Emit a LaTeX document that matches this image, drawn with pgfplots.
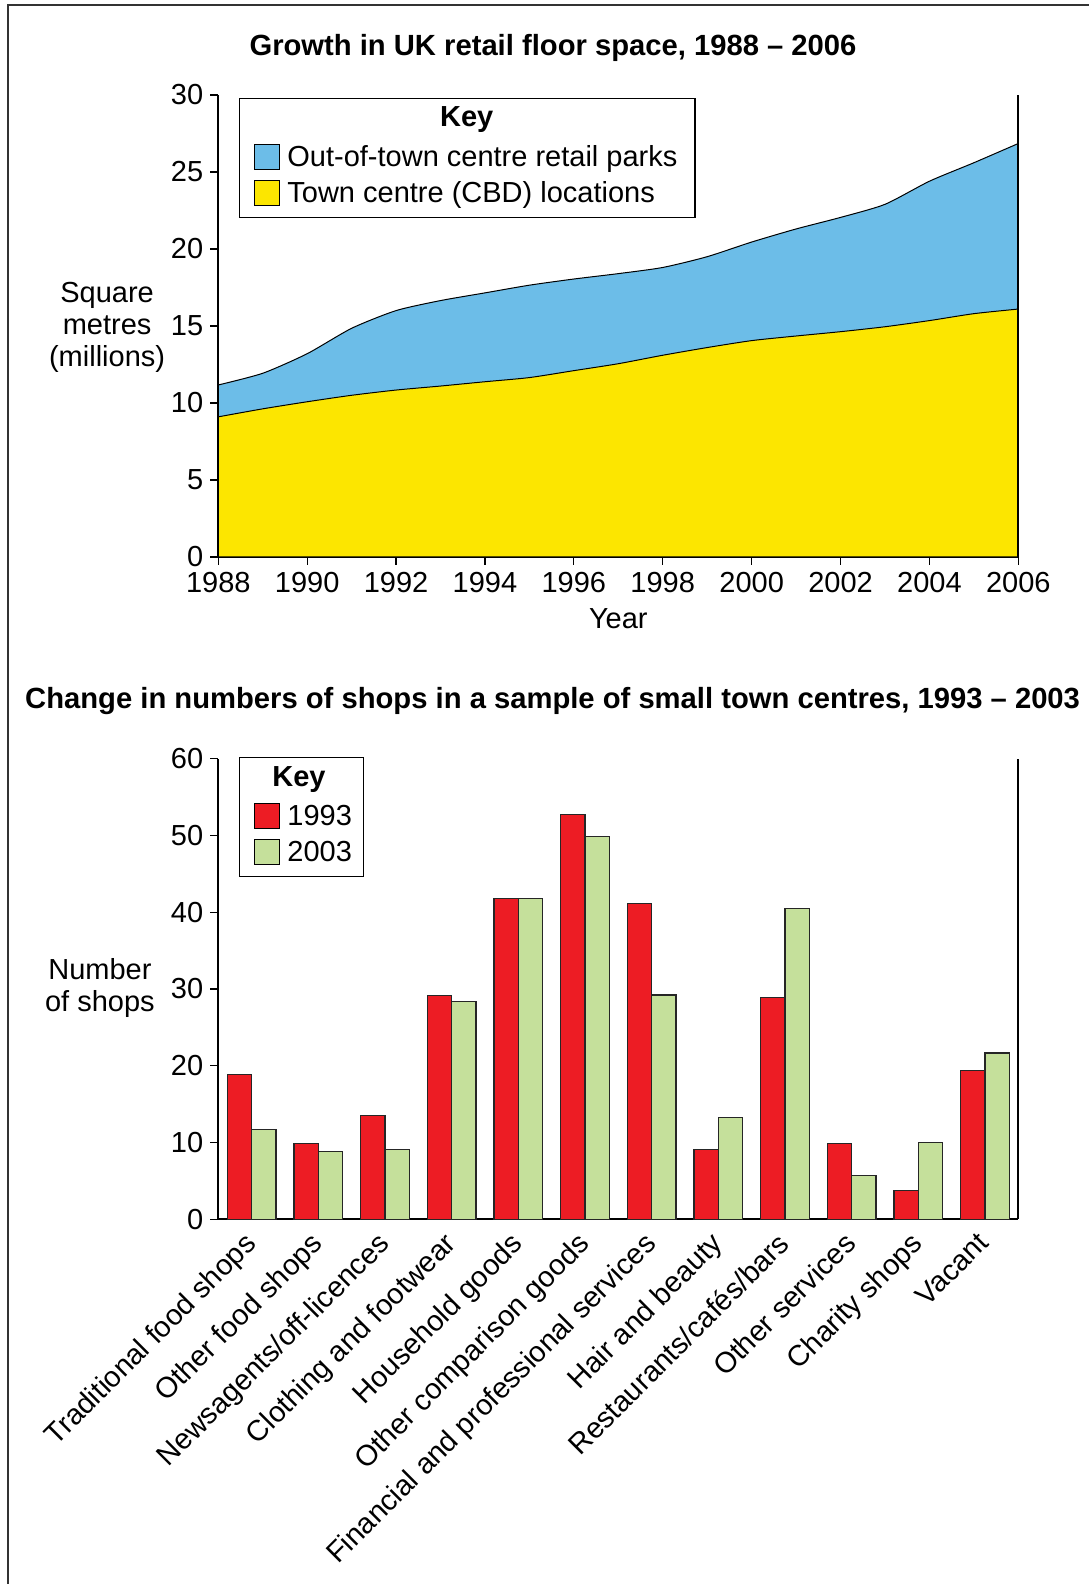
\documentclass[border=0pt]{standalone}
\usepackage{fontspec}
\setmainfont{Liberation Sans}
\usepackage{pgfplots}
\pgfplotsset{compat=1.18}
\definecolor{parkblue}{RGB}{108,189,232}
\definecolor{cbdyellow}{RGB}{252,230,0}
\definecolor{barred}{RGB}{237,28,36}
\definecolor{bargreen}{RGB}{197,224,155}
\begin{document}
\begin{tikzpicture}[font=\fontsize{14.5}{16}\selectfont]
\useasboundingbox (0,0) rectangle (544.5pt,792pt);
\draw[line width=0.7pt, black!80] (4pt,0pt) -- (4pt,789.5pt) -- (544.5pt,789.5pt);
\pgfplotsset{
  every axis/.append style={font=\fontsize{14.5}{16}\selectfont},
  swatch/.style={legend image code/.code={\draw[##1,draw=black,line width=0.5pt] (0pt,-6.25pt) rectangle (12.5pt,6.25pt);}},
  myaxis/.style={
    scale only axis, anchor=south west, width=400pt,
    axis x line*=bottom, axis y line*=left,
    axis line style={line width=1pt,-},
    tick align=outside, major tick length=4pt,
    tick style={line width=0.6pt, black},
    /pgf/number format/assume math mode=true,
    clip=false,
    legend cell align=left,
    legend style={draw=none, fill=none, anchor=west, inner sep=0pt, row sep=5pt,
      nodes={inner sep=0pt},
      /tikz/every odd column/.append style={column sep=3.5pt}},
    title style={anchor=base, yshift=0pt, font=\fontsize{14.6}{16}\selectfont\bfseries},
  }
}
% ---------------- Top chart ----------------
\begin{axis}[myaxis,
  at={(109.15pt,513.5pt)}, height=231pt,
  xmin=1988, xmax=2006, ymin=0, ymax=30,
  xtick={1988,1990,...,2006}, ytick={0,5,...,30},
  x tick label style={/pgf/number format/1000 sep={}},
  title={Growth in UK retail floor space, 1988 -- 2006},
  title style={at={(axis description cs:0.4184,1.0600)}},
  xlabel={Year},
  xlabel style={at={(axis description cs:0.5,-0.1545)}, anchor=base},
  ylabel={Square\\metres\\(millions)},
  ylabel style={at={(axis description cs:-0.139,0.497)}, anchor=center, align=center, rotate=-90},
  legend style={at={(axis description cs:0.0446,0.8258)}},
]
\addplot[swatch, fill=parkblue, draw=black, line width=0.5pt, smooth, tension=0.4] coordinates {
(1988,11.17) (1989,11.93) (1990,13.2) (1991,14.85) (1992,16.0) (1993,16.65)
(1994,17.15) (1995,17.65) (1996,18.05) (1997,18.4) (1998,18.8) (1999,19.5)
(2000,20.45) (2001,21.3) (2002,22.05) (2003,22.9) (2004,24.4) (2005,25.6) (2006,26.85)
} \closedcycle;
\addlegendentry{Out-of-town centre retail parks}
\addplot[swatch, fill=cbdyellow, draw=black, line width=0.5pt, smooth, tension=0.4] coordinates {
(1988,9.1) (1989,9.62) (1990,10.08) (1991,10.5) (1992,10.84) (1993,11.1)
(1994,11.38) (1995,11.65) (1996,12.1) (1997,12.55) (1998,13.1) (1999,13.6)
(2000,14.05) (2001,14.35) (2002,14.63) (2003,14.95) (2004,15.35) (2005,15.8) (2006,16.1)
} \closedcycle;
\addlegendentry{Town centre (CBD) locations}
\draw[line width=1pt] (rel axis cs:1,0) -- (rel axis cs:1,1);
\draw[line width=0.6pt] (axis description cs:0.02625,0.9929) rectangle (axis description cs:0.5959,0.7344);
\node[anchor=base, font=\fontsize{14.5}{16}\selectfont\bfseries] at (axis description cs:0.3105,0.9314) {Key};
\end{axis}
% ---------------- Bottom chart ----------------
\begin{axis}[myaxis,
  at={(109.15pt,182.35pt)}, height=230.4pt,
  ybar=0pt, bar width=12.15pt,
  xmin=-0.5, xmax=11.5, ymin=0, ymax=60,
  ytick={0,10,...,60},
  xtick={0,...,11},
  xtick style={draw=none},
  xticklabels={Traditional food shops, Other food shops, Newsagents/off-licences,
    Clothing and footwear, Household goods, Other comparison goods,
    Financial and professional services, Hair and beauty, Restaurants/cafés/bars,
    Other services, Charity shops, Vacant},
  x tick label style={xshift=-4.5pt, rotate=45, anchor=north east, inner sep=1pt},
  title={Change in numbers of shops in a sample of small town centres, 1993 -- 2003},
  title style={at={(axis description cs:0.4179,1.0820)}},
  ylabel={Number\\of shops},
  ylabel style={at={(axis description cs:-0.148,0.503)}, anchor=center, align=center, rotate=-90},
  legend style={at={(axis description cs:0.0446,0.8353)}},
]
\addplot[swatch, fill=barred, draw=black!85, line width=0.6pt] coordinates {
(0,18.9) (1,9.83) (2,13.5) (3,29.1) (4,41.8) (5,52.7) (6,41.1) (7,9.09) (8,28.9) (9,9.83) (10,3.74) (11,19.4)};
\addlegendentry{1993}
\addplot[swatch, fill=bargreen, draw=black!85, line width=0.6pt] coordinates {
(0,11.7) (1,8.78) (2,9.09) (3,28.4) (4,41.8) (5,49.8) (6,29.2) (7,13.3) (8,40.5) (9,5.74) (10,9.96) (11,21.65)};
\addlegendentry{2003}
\draw[line width=1pt] (rel axis cs:1,0) -- (rel axis cs:1,1);
\draw[line width=0.6pt] (axis description cs:0.02625,1.0026) rectangle (axis description cs:0.18125,0.7435);
\node[anchor=base, font=\fontsize{14.5}{16}\selectfont\bfseries] at (axis description cs:0.1009,0.9388) {Key};
\end{axis}
\end{tikzpicture}
\end{document}
